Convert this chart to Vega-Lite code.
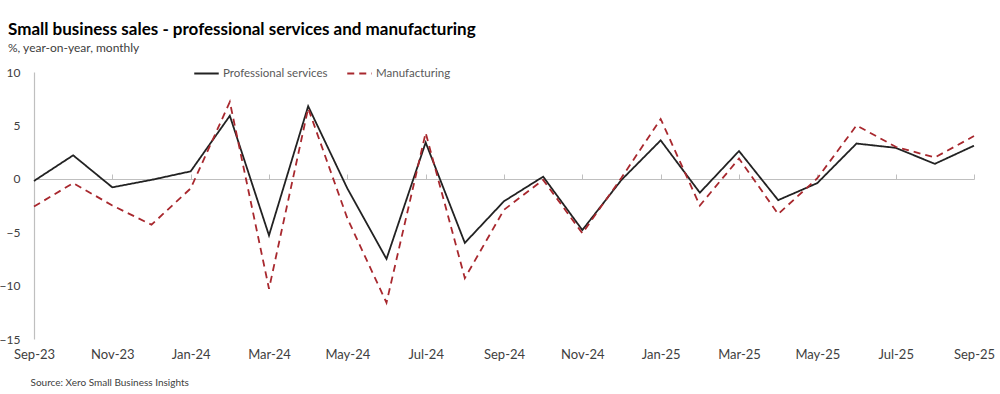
{
  "$schema": "https://vega.github.io/schema/vega-lite/v6.json",
  "width": 940,
  "height": 267,
  "autosize": "none",
  "padding": {"left": 34, "top": 72, "right": 26, "bottom": 55},
  "background": "white",
  "config": {
    "view": {"stroke": null},
    "font": "Lato",
    "axis": {"labelFont": "Lato", "titleFont": "Lato"},
    "legend": {"labelFont": "Lato"}
  },
  "title": {
    "text": "Small business sales - professional services and manufacturing",
    "subtitle": "%, year-on-year, monthly",
    "anchor": "start",
    "frame": "group",
    "dx": -26,
    "offset": 5,
    "fontSize": 17,
    "fontWeight": "bold",
    "color": "#000000",
    "subtitleFontSize": 12,
    "subtitleColor": "#404040",
    "subtitlePadding": 4
  },
  "data": {
    "values": [
      {"month": "Sep-23", "series": "Professional services", "value": -0.2},
      {"month": "Oct-23", "series": "Professional services", "value": 2.2},
      {"month": "Nov-23", "series": "Professional services", "value": -0.8},
      {"month": "Dec-23", "series": "Professional services", "value": -0.1},
      {"month": "Jan-24", "series": "Professional services", "value": 0.7},
      {"month": "Feb-24", "series": "Professional services", "value": 5.9},
      {"month": "Mar-24", "series": "Professional services", "value": -5.3},
      {"month": "Apr-24", "series": "Professional services", "value": 6.8},
      {"month": "May-24", "series": "Professional services", "value": -0.9},
      {"month": "Jun-24", "series": "Professional services", "value": -7.5},
      {"month": "Jul-24", "series": "Professional services", "value": 3.4},
      {"month": "Aug-24", "series": "Professional services", "value": -6.0},
      {"month": "Sep-24", "series": "Professional services", "value": -2.1},
      {"month": "Oct-24", "series": "Professional services", "value": 0.2},
      {"month": "Nov-24", "series": "Professional services", "value": -4.8},
      {"month": "Dec-24", "series": "Professional services", "value": -0.1},
      {"month": "Jan-25", "series": "Professional services", "value": 3.6},
      {"month": "Feb-25", "series": "Professional services", "value": -1.3},
      {"month": "Mar-25", "series": "Professional services", "value": 2.6},
      {"month": "Apr-25", "series": "Professional services", "value": -2.0},
      {"month": "May-25", "series": "Professional services", "value": -0.4},
      {"month": "Jun-25", "series": "Professional services", "value": 3.3},
      {"month": "Jul-25", "series": "Professional services", "value": 2.9},
      {"month": "Aug-25", "series": "Professional services", "value": 1.4},
      {"month": "Sep-25", "series": "Professional services", "value": 3.1},
      {"month": "Sep-23", "series": "Manufacturing", "value": -2.6},
      {"month": "Oct-23", "series": "Manufacturing", "value": -0.4},
      {"month": "Nov-23", "series": "Manufacturing", "value": -2.5},
      {"month": "Dec-23", "series": "Manufacturing", "value": -4.3},
      {"month": "Jan-24", "series": "Manufacturing", "value": -0.9},
      {"month": "Feb-24", "series": "Manufacturing", "value": 7.2},
      {"month": "Mar-24", "series": "Manufacturing", "value": -10.3},
      {"month": "Apr-24", "series": "Manufacturing", "value": 6.6},
      {"month": "May-24", "series": "Manufacturing", "value": -3.7},
      {"month": "Jun-24", "series": "Manufacturing", "value": -11.6},
      {"month": "Jul-24", "series": "Manufacturing", "value": 4.3},
      {"month": "Aug-24", "series": "Manufacturing", "value": -9.3},
      {"month": "Sep-24", "series": "Manufacturing", "value": -2.9},
      {"month": "Oct-24", "series": "Manufacturing", "value": -0.1},
      {"month": "Nov-24", "series": "Manufacturing", "value": -5.1},
      {"month": "Dec-24", "series": "Manufacturing", "value": 0.1},
      {"month": "Jan-25", "series": "Manufacturing", "value": 5.6},
      {"month": "Feb-25", "series": "Manufacturing", "value": -2.5},
      {"month": "Mar-25", "series": "Manufacturing", "value": 1.9},
      {"month": "Apr-25", "series": "Manufacturing", "value": -3.3},
      {"month": "May-25", "series": "Manufacturing", "value": 0.05},
      {"month": "Jun-25", "series": "Manufacturing", "value": 5.0},
      {"month": "Jul-25", "series": "Manufacturing", "value": 3.0},
      {"month": "Aug-25", "series": "Manufacturing", "value": 2.0},
      {"month": "Sep-25", "series": "Manufacturing", "value": 4.0}
    ]
  },
  "resolve": {"axis": {"x": "independent"}},
  "layer": [
    {
      "transform": [{"filter": "datum.series === 'Professional services'"}],
      "mark": {"type": "line", "strokeWidth": 1.8},
      "encoding": {
        "x": {
          "field": "month",
          "type": "ordinal",
          "sort": null,
          "scale": {"type": "point", "padding": 0},
          "axis": {
            "orient": "top",
            "offset": -107,
            "values": ["Sep-23","Nov-23","Jan-24","Mar-24","May-24","Jul-24","Sep-24","Nov-24","Jan-25","Mar-25","May-25","Jul-25","Sep-25"],
            "labels": false,
            "title": null,
            "domain": true,
            "domainColor": "#bfbfbf",
            "domainWidth": 1.2,
            "ticks": true,
            "tickColor": "#bfbfbf",
            "tickSize": 5,
            "grid": false
          }
        },
        "y": {
          "field": "value",
          "type": "quantitative",
          "scale": {"domain": [-15, 10], "nice": false, "zero": false},
          "axis": {
            "values": [-15, -10, -5, 0, 5, 10],
            "title": null,
            "grid": false,
            "ticks": false,
            "domain": true,
            "domainColor": "#bfbfbf",
            "domainWidth": 1.2,
            "labelPadding": 14,
            "labelFontSize": 12,
            "labelColor": "#404040"
          }
        },
        "color": {
          "field": "series",
          "type": "nominal",
          "scale": {"domain": ["Professional services", "Manufacturing"], "range": ["#222222", "#a8282e"]},
          "legend": {
            "title": null,
            "orient": "none",
            "direction": "horizontal",
            "legendX": 159,
            "legendY": -12,
            "symbolType": "stroke",
            "symbolSize": 600,
            "symbolStrokeWidth": 1.8,
            "labelFontSize": 11.5,
            "labelColor": "#595959",
            "labelOffset": 3,
            "columnPadding": 15
          }
        },
        "strokeDash": {
          "field": "series",
          "type": "nominal",
          "scale": {"domain": ["Professional services", "Manufacturing"], "range": [[1, 0], [7, 5]]},
          "legend": {
            "title": null,
            "orient": "none",
            "direction": "horizontal",
            "legendX": 159,
            "legendY": -12,
            "symbolType": "stroke",
            "symbolSize": 600,
            "symbolStrokeWidth": 1.8,
            "labelFontSize": 11.5,
            "labelColor": "#595959",
            "labelOffset": 3,
            "columnPadding": 15
          }
        }
      }
    },
    {
      "transform": [{"filter": "datum.series === 'Manufacturing'"}],
      "mark": {"type": "line", "strokeWidth": 1.8},
      "encoding": {
        "x": {
          "field": "month",
          "type": "ordinal",
          "sort": null,
          "scale": {"type": "point", "padding": 0},
          "axis": {
            "orient": "bottom",
            "values": ["Sep-23","Nov-23","Jan-24","Mar-24","May-24","Jul-24","Sep-24","Nov-24","Jan-25","Mar-25","May-25","Jul-25","Sep-25"],
            "labelAngle": 0,
            "labelFontSize": 13,
            "labelColor": "#404040",
            "labelPadding": 9,
            "domain": false,
            "ticks": false,
            "grid": false,
            "title": "Source: Xero Small Business Insights",
            "titleFontSize": 10,
            "titleFontWeight": "normal",
            "titleColor": "#404040",
            "titleAlign": "left",
            "titleAnchor": "start",
            "titleX": -4,
            "titleY": 38
          }
        },
        "y": {
          "field": "value",
          "type": "quantitative",
          "scale": {"domain": [-15, 10], "nice": false, "zero": false}
        },
        "color": {
          "field": "series",
          "type": "nominal",
          "scale": {"domain": ["Professional services", "Manufacturing"], "range": ["#222222", "#a8282e"]}
        },
        "strokeDash": {
          "field": "series",
          "type": "nominal",
          "scale": {"domain": ["Professional services", "Manufacturing"], "range": [[1, 0], [7, 5]]}
        }
      }
    }
  ]
}
